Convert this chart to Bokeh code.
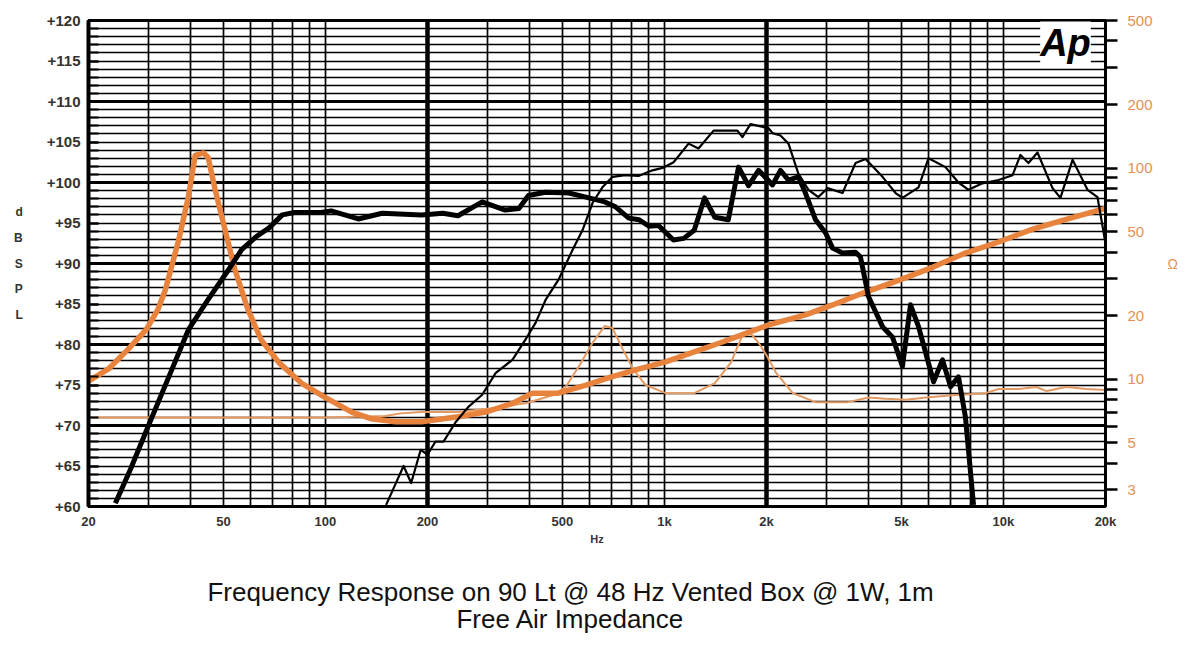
from bokeh.plotting import figure
from bokeh.layouts import column
from bokeh.models import (Range1d, LogScale, LogAxis, FixedTicker, Grid, Label,
                          PrintfTickFormatter, ColumnDataSource)
from bokeh.core.properties import value
from bokeh.embed import file_html
from bokeh.resources import INLINE

# ---------------- data ----------------
# Thick black: SPL in 90 Lt vented box (dB)
vb_freq = [24, 26.6, 30, 34.9, 39.4, 45, 51.7, 56.6, 62.4, 68.2, 74.6, 81, 97, 104, 125,
           147, 192, 222, 246, 290, 339, 372, 397, 446, 522, 587, 667, 717, 785, 842,
           900, 960, 1063, 1140, 1224, 1313, 1408, 1543, 1654, 1770, 1895, 2000, 2084,
           2199, 2322, 2483, 2606, 2791, 2986, 3133, 3352, 3662, 3786, 4000, 4398, 4708,
           5036, 5318, 5617, 6221, 6610, 6980, 7368, 7721, 8160]
vb_db = [60.4, 64.6, 69.9, 76.5, 81.8, 85.5, 89.2, 91.7, 93.3, 94.4, 96.0, 96.3, 96.3, 96.5, 95.5,
         96.2, 96.0, 96.2, 95.9, 97.6, 96.6, 96.8, 98.4, 98.8, 98.7, 98.2, 97.6, 97.0, 95.6, 95.4,
         94.6, 94.7, 92.9, 93.1, 94.1, 98.1, 95.7, 95.4, 101.9, 99.6, 101.5, 100.5, 99.7,
         101.5, 100.3, 100.7, 98.7, 95.4, 93.8, 91.9, 91.3, 91.4, 90.8, 85.9, 82.2, 80.9,
         77.3, 84.9, 82.2, 75.4, 78.1, 74.8, 76.0, 71.1, 60.2]

# Thin black: second SPL curve (dB)
hf_freq = [151, 170, 179, 191, 200, 211, 223, 242, 264, 290, 318, 356, 389, 417, 446, 487,
           536, 573, 614, 656, 703, 768, 838, 922, 987, 1064, 1178, 1260, 1396, 1642, 1698,
           1794, 2028, 2084, 2199, 2322, 2483, 2660, 2845, 3027, 3352, 3662, 3920, 4398,
           4806, 5036, 5617, 6012, 6743, 7368, 7888, 8672, 9668, 10640, 11225, 11854,
           12600, 13960, 14725, 15990, 17700, 18940, 20000]
hf_db = [60.2, 65.0, 62.9, 67.0, 66.4, 68.0, 68.0, 70.4, 72.3, 73.8, 76.5, 78.1, 80.6, 82.7, 85.5, 88.0,
         91.7, 94.1, 97.5, 99.4, 100.7, 100.9, 100.8, 101.5, 101.8, 102.5, 104.8, 104.2, 106.4, 106.4, 105.6,
         107.2, 106.7, 106.1, 105.8, 104.8, 101.1, 99.1, 98.2, 99.3, 98.7, 102.4, 102.9, 100.7,
         98.7, 98.1, 99.4, 103.0, 101.9, 100.0, 99.1, 99.9, 100.3, 100.9, 103.4, 102.4,
         103.7, 99.3, 98.1, 102.8, 99.1, 98.2, 92.5]

# Thick orange: free air impedance (ohm)
z1_freq = [20, 22.9, 26.2, 29.6, 32, 33.7, 36.9, 39.4, 41.3, 43.7, 45.1, 47.3, 50.5, 54, 59,
           64.6, 72.9, 84.9, 100, 119.6, 136.8, 161, 192, 246, 297, 357, 408, 486, 587, 702,
           842, 1008, 1224, 1462, 1754, 2028, 2606, 3133, 3920, 4930, 6200, 7720, 9668,
           12200, 15300, 20000]
z1_ohm = [9.8, 11.2, 13.9, 17.2, 21.3, 26.5, 45.6, 72.9, 115, 118, 112, 78.7, 51.4, 33.3, 21.5,
          15.4, 12.0, 9.6, 8.2, 7.0, 6.5, 6.3, 6.3, 6.65, 7.0, 7.7, 8.6, 8.6, 9.4, 10.3,
          11.2, 12.1, 13.5, 14.9, 16.6, 18.1, 20.2, 22.5, 25.9, 29.5, 34.0, 39.6, 44.7,
          51.4, 57.2, 64.5]

# Thin orange: second impedance curve (ohm)
z2_freq = [20, 50, 100, 150, 167, 192, 246, 309, 390, 468, 511, 559, 614, 667, 702, 753, 808,
           880, 1008, 1224, 1408, 1570, 1710, 1790, 1895, 2000, 2130, 2390, 2791, 3480, 4000,
           4500, 5160, 5910, 7080, 8870, 9668, 11100, 12500, 13400, 15300, 17600, 20000]
z2_ohm = [6.6, 6.6, 6.6, 6.7, 6.9, 7.0, 7.0, 7.3, 7.7, 8.4, 9.2, 11.5, 14.9, 17.9, 17.5, 13.9, 11.2,
          9.4, 8.6, 8.6, 9.6, 12.0, 16.6, 16.6, 14.9, 13.0, 10.8, 8.6, 7.8, 7.8, 8.2,
          8.1, 8.0, 8.2, 8.4, 8.6, 9.0, 9.0, 9.2, 8.8, 9.2, 9.0, 8.9]

x_ticks = [20, 50, 100, 200, 500, 1000, 2000, 5000, 10000, 20000]
x_tick_labels = ["20", "50", "100", "200", "500", "1k", "2k", "5k", "10k", "20k"]
x_grid = [20, 30, 40, 50, 60, 70, 80, 90, 100, 200, 300, 400, 500, 600, 700, 800, 900,
          1000, 2000, 3000, 4000, 5000, 6000, 7000, 8000, 9000, 10000, 20000]
x_grid_bold = [200, 2000]
db_ticks = list(range(60, 121, 5))
db_grid = list(range(60, 121))
db_grid_bold = [70, 80, 90, 100, 110]
ohm_ticks = [3, 5, 10, 20, 50, 100, 200, 500]
ohm_minor = [4, 6, 7, 8, 9, 30, 40, 60, 70, 80, 90, 300, 400]

captions = ["Frequency Response on 90 Lt @ 48 Hz Vented Box @ 1W, 1m", "Free Air Impedance"]

ORANGE = "#E8833D"
ORANGE_THIN = "#E39A62"
ORANGE_TXT = "#E39058"
FONT = "Liberation Sans"

# ---------------- chart ----------------
p = figure(width=1192, height=547, x_axis_type="log",
           x_range=Range1d(20, 20000), y_range=Range1d(60, 120),
           output_backend="svg", toolbar_location=None,
           min_border_left=88, min_border_right=87, min_border_top=20, min_border_bottom=40)
p.extra_y_ranges = {"ohm": Range1d(2.5, 500)}
p.extra_y_scales = {"ohm": LogScale()}
p.background_fill_color = "white"
p.border_fill_color = "white"
p.outline_line_color = "black"
p.outline_line_width = 3

# grids
p.xgrid.ticker = FixedTicker(ticks=x_grid)
p.xgrid.grid_line_color = "black"
p.xgrid.grid_line_width = 1.7
p.xgrid.grid_line_alpha = 1
p.ygrid.ticker = FixedTicker(ticks=db_grid)
p.ygrid.grid_line_color = "black"
p.ygrid.grid_line_width = 1.7
p.ygrid.grid_line_alpha = 1
p.add_layout(Grid(dimension=0, ticker=FixedTicker(ticks=x_grid_bold),
                  grid_line_color="black", grid_line_width=4.5))
p.add_layout(Grid(dimension=1, ticker=FixedTicker(ticks=db_grid_bold),
                  grid_line_color="black", grid_line_width=3))

# bottom axis
xa = p.xaxis[0]
xa.ticker = FixedTicker(ticks=x_ticks)
xa.major_label_overrides = {t: l for t, l in zip(x_ticks, x_tick_labels)}
xa.major_tick_out = 0
xa.major_tick_in = 0
xa.minor_tick_out = 0
xa.minor_tick_in = 0
xa.axis_line_width = 3
xa.axis_line_color = "black"
xa.major_label_standoff = 7
xa.major_label_text_font = FONT
xa.major_label_text_font_style = "bold"
xa.major_label_text_font_size = "13px"
xa.major_label_text_color = "#333333"
xa.axis_label = "Hz"
xa.axis_label_standoff = 1
xa.axis_label_text_font = FONT
xa.axis_label_text_font_style = "bold"
xa.axis_label_text_font_size = "11px"
xa.axis_label_text_color = "#333333"

# left axis
ya = p.yaxis[0]
ya.ticker = FixedTicker(ticks=db_ticks, minor_ticks=db_grid)
ya.formatter = PrintfTickFormatter(format="+%d")
ya.major_tick_out = 0
ya.major_tick_in = 10
ya.minor_tick_out = 0
ya.minor_tick_in = 10
ya.major_tick_line_width = 2
ya.minor_tick_line_width = 2
ya.axis_line_width = 4
ya.major_label_standoff = 8
ya.major_label_text_font = FONT
ya.major_label_text_font_style = "bold"
ya.major_label_text_font_size = "15px"
ya.major_label_text_color = "#333333"
ya.axis_label = "d\nB\nS\nP\nL"
ya.axis_label_orientation = "horizontal"
ya.axis_label_standoff = 21
ya.axis_label_text_font = FONT
ya.axis_label_text_font_style = "bold"
ya.axis_label_text_font_size = "12px"
ya.axis_label_text_line_height = 1.85
ya.axis_label_text_color = "#333333"

# right axis (impedance)
ra = LogAxis(y_range_name="ohm",
             ticker=FixedTicker(ticks=ohm_ticks, minor_ticks=ohm_minor),
             formatter=PrintfTickFormatter(format="%d"))
ra.major_tick_out = 12
ra.major_tick_in = 0
ra.minor_tick_out = 12
ra.minor_tick_in = 0
ra.major_tick_line_width = 2.5
ra.minor_tick_line_width = 2.5
ra.axis_line_width = 3
ra.major_label_standoff = 10
ra.major_label_text_font = FONT
ra.major_label_text_font_size = "15px"
ra.major_label_text_color = ORANGE_TXT
ra.axis_label = "Ω"
ra.axis_label_orientation = "horizontal"
ra.axis_label_standoff = 12
ra.axis_label_text_font = FONT
ra.axis_label_text_font_style = "normal"
ra.axis_label_text_font_size = "14px"
ra.axis_label_text_color = ORANGE_TXT
p.add_layout(ra, "right")

# curves
p.line(z2_freq, z2_ohm, y_range_name="ohm", line_color=ORANGE_THIN, line_width=2)
p.line(z1_freq, z1_ohm, y_range_name="ohm", line_color=ORANGE, line_width=5.5, line_join="round")
p.line(hf_freq, hf_db, line_color="black", line_width=2.2, line_join="round")
p.line(vb_freq, vb_db, line_color="black", line_width=5, line_join="round")

# logo (screen units relative to the frame)
p.add_layout(Label(x=977, y=464, x_units="screen", y_units="screen", text="Ap",
                   text_font=FONT, text_font_size="38px", text_color="black",
                   text_font_style="bold italic", text_align="center",
                   text_baseline="middle", background_fill_color="white"))

# ---------------- captions below the chart ----------------
cap = figure(width=1192, height=98, x_range=Range1d(0, 1192), y_range=Range1d(0, 98),
             output_backend="svg", toolbar_location=None,
             min_border_left=0, min_border_right=0, min_border_top=0, min_border_bottom=0)
cap.axis.visible = False
cap.grid.visible = False
cap.outline_line_color = None
cap.background_fill_color = "white"
cap.border_fill_color = "white"
cap_src = ColumnDataSource(dict(x=[565, 565], y=[54, 27], text=captions))
cap.text(x="x", y="y", text="text", source=cap_src, text_font=value(FONT),
         text_font_size="26px", text_color="#111111", text_align="center",
         text_baseline="middle")

layout = column(p, cap, spacing=0)
open("out.html", "w").write(file_html(layout, INLINE))
